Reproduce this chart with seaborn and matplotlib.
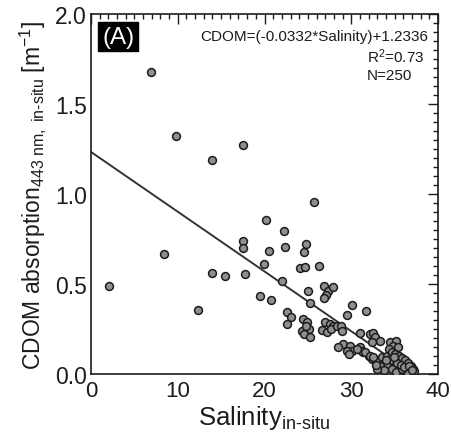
import matplotlib
matplotlib.use("Agg")
import matplotlib.pyplot as plt
from matplotlib.ticker import MultipleLocator
import numpy as np
import pandas as pd
import seaborn as sns

# In-situ samples: salinity and CDOM absorption at 443 nm [m^-1]
salinity = [
    6.9, 9.8, 14.0, 17.5,
    2.1, 8.4, 12.3, 14.0, 15.4, 17.75, 17.5, 17.5, 19.5, 20.7, 19.98, 20.17,
    20.5, 21.98, 22.3, 22.4, 24.8, 24.55, 24.1, 24.7, 26.25, 25.7,
    25.05, 25.2, 26.9, 27.3, 27.9, 27.1, 26.8,
    22.55, 23.0, 22.55,
    24.4, 24.9, 24.3, 25.1, 24.5, 25.3, 24.8,
    27.0, 27.5, 27.9, 26.6, 27.2, 27.7, 28.3, 28.8, 28.9,
    30.05, 29.5, 31.7, 31.0, 32.2,
    32.5, 32.7, 33.3, 32.4,
    29.0, 29.9, 30.05, 30.8, 31.4, 32.0,
    28.5, 29.55, 31.0, 31.2, 31.6, 29.7, 30.7,
    32.35, 32.9, 33.5, 34.1, 32.2, 32.5,
    34.5, 35.2, 34.85, 34.3, 35.4, 34.7,
    34.47, 34.85, 35.24, 35.62, 35.8, 36.0, 36.4, 36.6, 36.8, 35.4, 35.0,
    35.6, 36.2, 33.7, 34.1, 33.3, 34.7, 35.2,
    35.0, 35.5, 35.9, 36.2, 36.5, 36.9, 37.1, 37.2, 36.9, 36.4, 35.8,
    35.3, 34.9, 35.7, 36.1, 36.6, 37.0, 34.0, 33.8, 33.0, 32.8,
]
cdom_443 = [
    1.68, 1.32, 1.19, 1.27,
    0.49, 0.667, 0.356, 0.563, 0.544, 0.556, 0.741, 0.698, 0.435, 0.413, 0.611, 0.855,
    0.681, 0.515, 0.793, 0.707, 0.722, 0.676, 0.59, 0.596, 0.598, 0.954,
    0.459, 0.394, 0.487, 0.462, 0.485, 0.44, 0.42,
    0.342, 0.315, 0.278,
    0.306, 0.289, 0.241, 0.25, 0.222, 0.204, 0.268,
    0.291, 0.278, 0.268, 0.246, 0.235, 0.25, 0.268, 0.268, 0.241,
    0.383, 0.328, 0.35, 0.228, 0.222,
    0.228, 0.204, 0.185, 0.18,
    0.167, 0.157, 0.13, 0.139, 0.12, 0.102,
    0.148, 0.13, 0.148, 0.13, 0.12, 0.111, 0.139,
    0.083, 0.074, 0.093, 0.102, 0.10, 0.093,
    0.176, 0.185, 0.157, 0.139, 0.148, 0.12,
    0.083, 0.074, 0.065, 0.074, 0.046, 0.056, 0.037, 0.028, 0.019, 0.037, 0.046,
    0.019, 0.019, 0.056, 0.046, 0.046, 0.028, 0.009,
    0.11, 0.10, 0.09, 0.075, 0.06, 0.045, 0.03, 0.015, 0.005, 0.01, 0.03,
    0.06, 0.095, 0.05, 0.04, 0.045, 0.02, 0.075, 0.02, 0.03, 0.05,
]

# Linear fit reported on the panel
slope = -0.0332
intercept = 1.2336
r_squared = 0.73
n_samples = 250

x_ticks = [0, 10, 20, 30, 40]
y_ticks = [0.0, 0.5, 1.0, 1.5, 2.0]

df = pd.DataFrame({"salinity": salinity, "cdom": cdom_443})
fit_x = np.array([0.0, max(salinity)])
fit_df = pd.DataFrame({"salinity": fit_x, "cdom": intercept + slope * fit_x})

sns.set_style("white")
plt.rcParams["font.family"] = ["Liberation Sans", "DejaVu Sans"]
plt.rcParams["mathtext.fontset"] = "custom"
plt.rcParams["mathtext.rm"] = "Liberation Sans"
plt.rcParams["mathtext.it"] = "Liberation Sans:italic"
plt.rcParams["mathtext.default"] = "regular"

ink = "#1c1c1c"
fig = plt.figure(figsize=(4.51, 4.39), dpi=100)
ax = fig.add_axes([0.2018, 0.1458, 0.7694, 0.82])

sns.lineplot(data=fit_df, x="salinity", y="cdom", ax=ax, color="#333333",
             linewidth=1.4, zorder=2)
sns.scatterplot(data=df, x="salinity", y="cdom", ax=ax, s=32,
                facecolor="#8f8f8f", edgecolor=ink, linewidth=1.1,
                zorder=3, legend=False)

ax.set_xlim(0, 40)
ax.set_ylim(0, 2.0)
ax.set_xticks(x_ticks)
ax.set_yticks(y_ticks)
ax.set_xticklabels([str(t) for t in x_ticks])
ax.set_yticklabels([f"{t:.1f}" for t in y_ticks])
ax.xaxis.set_minor_locator(MultipleLocator(1))
ax.yaxis.set_minor_locator(MultipleLocator(0.05))
ax.tick_params(which="both", direction="in", top=True, right=True,
               color=ink, width=1.0)
ax.tick_params(which="major", length=7)
ax.tick_params(which="minor", length=3.5)
ax.tick_params(axis="y", labelsize=16.5, pad=3, labelcolor=ink)
ax.tick_params(axis="x", labelsize=16, pad=4, labelcolor=ink)
for sp in ax.spines.values():
    sp.set_color(ink)
    sp.set_linewidth(1.2)

ax.set_xlabel(r"Salinity$_{in\text{-}situ}$", fontsize=18.5, color=ink,
              labelpad=2)
ax.set_ylabel(r"CDOM absorption$_{443\ nm,\ in\text{-}situ}$ [m$^{-1}$]",
              fontsize=16.5, color=ink, labelpad=5)

ax.text(0.078, 0.9375, "(A)", transform=ax.transAxes, ha="center",
        va="center", fontsize=17.5, color="white",
        bbox=dict(boxstyle="square,pad=0.16", facecolor="black",
                  edgecolor="black"))
ax.text(0.971, 0.938, f"CDOM=({slope:.4f}*Salinity)+{intercept:.4f}",
        transform=ax.transAxes, ha="right", va="center", fontsize=11,
        color=ink)
ax.text(0.795, 0.884, f"R$^2$={r_squared:.2f}", transform=ax.transAxes,
        ha="left", va="center", fontsize=11, color=ink)
ax.text(0.795, 0.831, f"N={n_samples}", transform=ax.transAxes,
        ha="left", va="center", fontsize=11, color=ink)

fig.savefig("out.png", dpi=100)
